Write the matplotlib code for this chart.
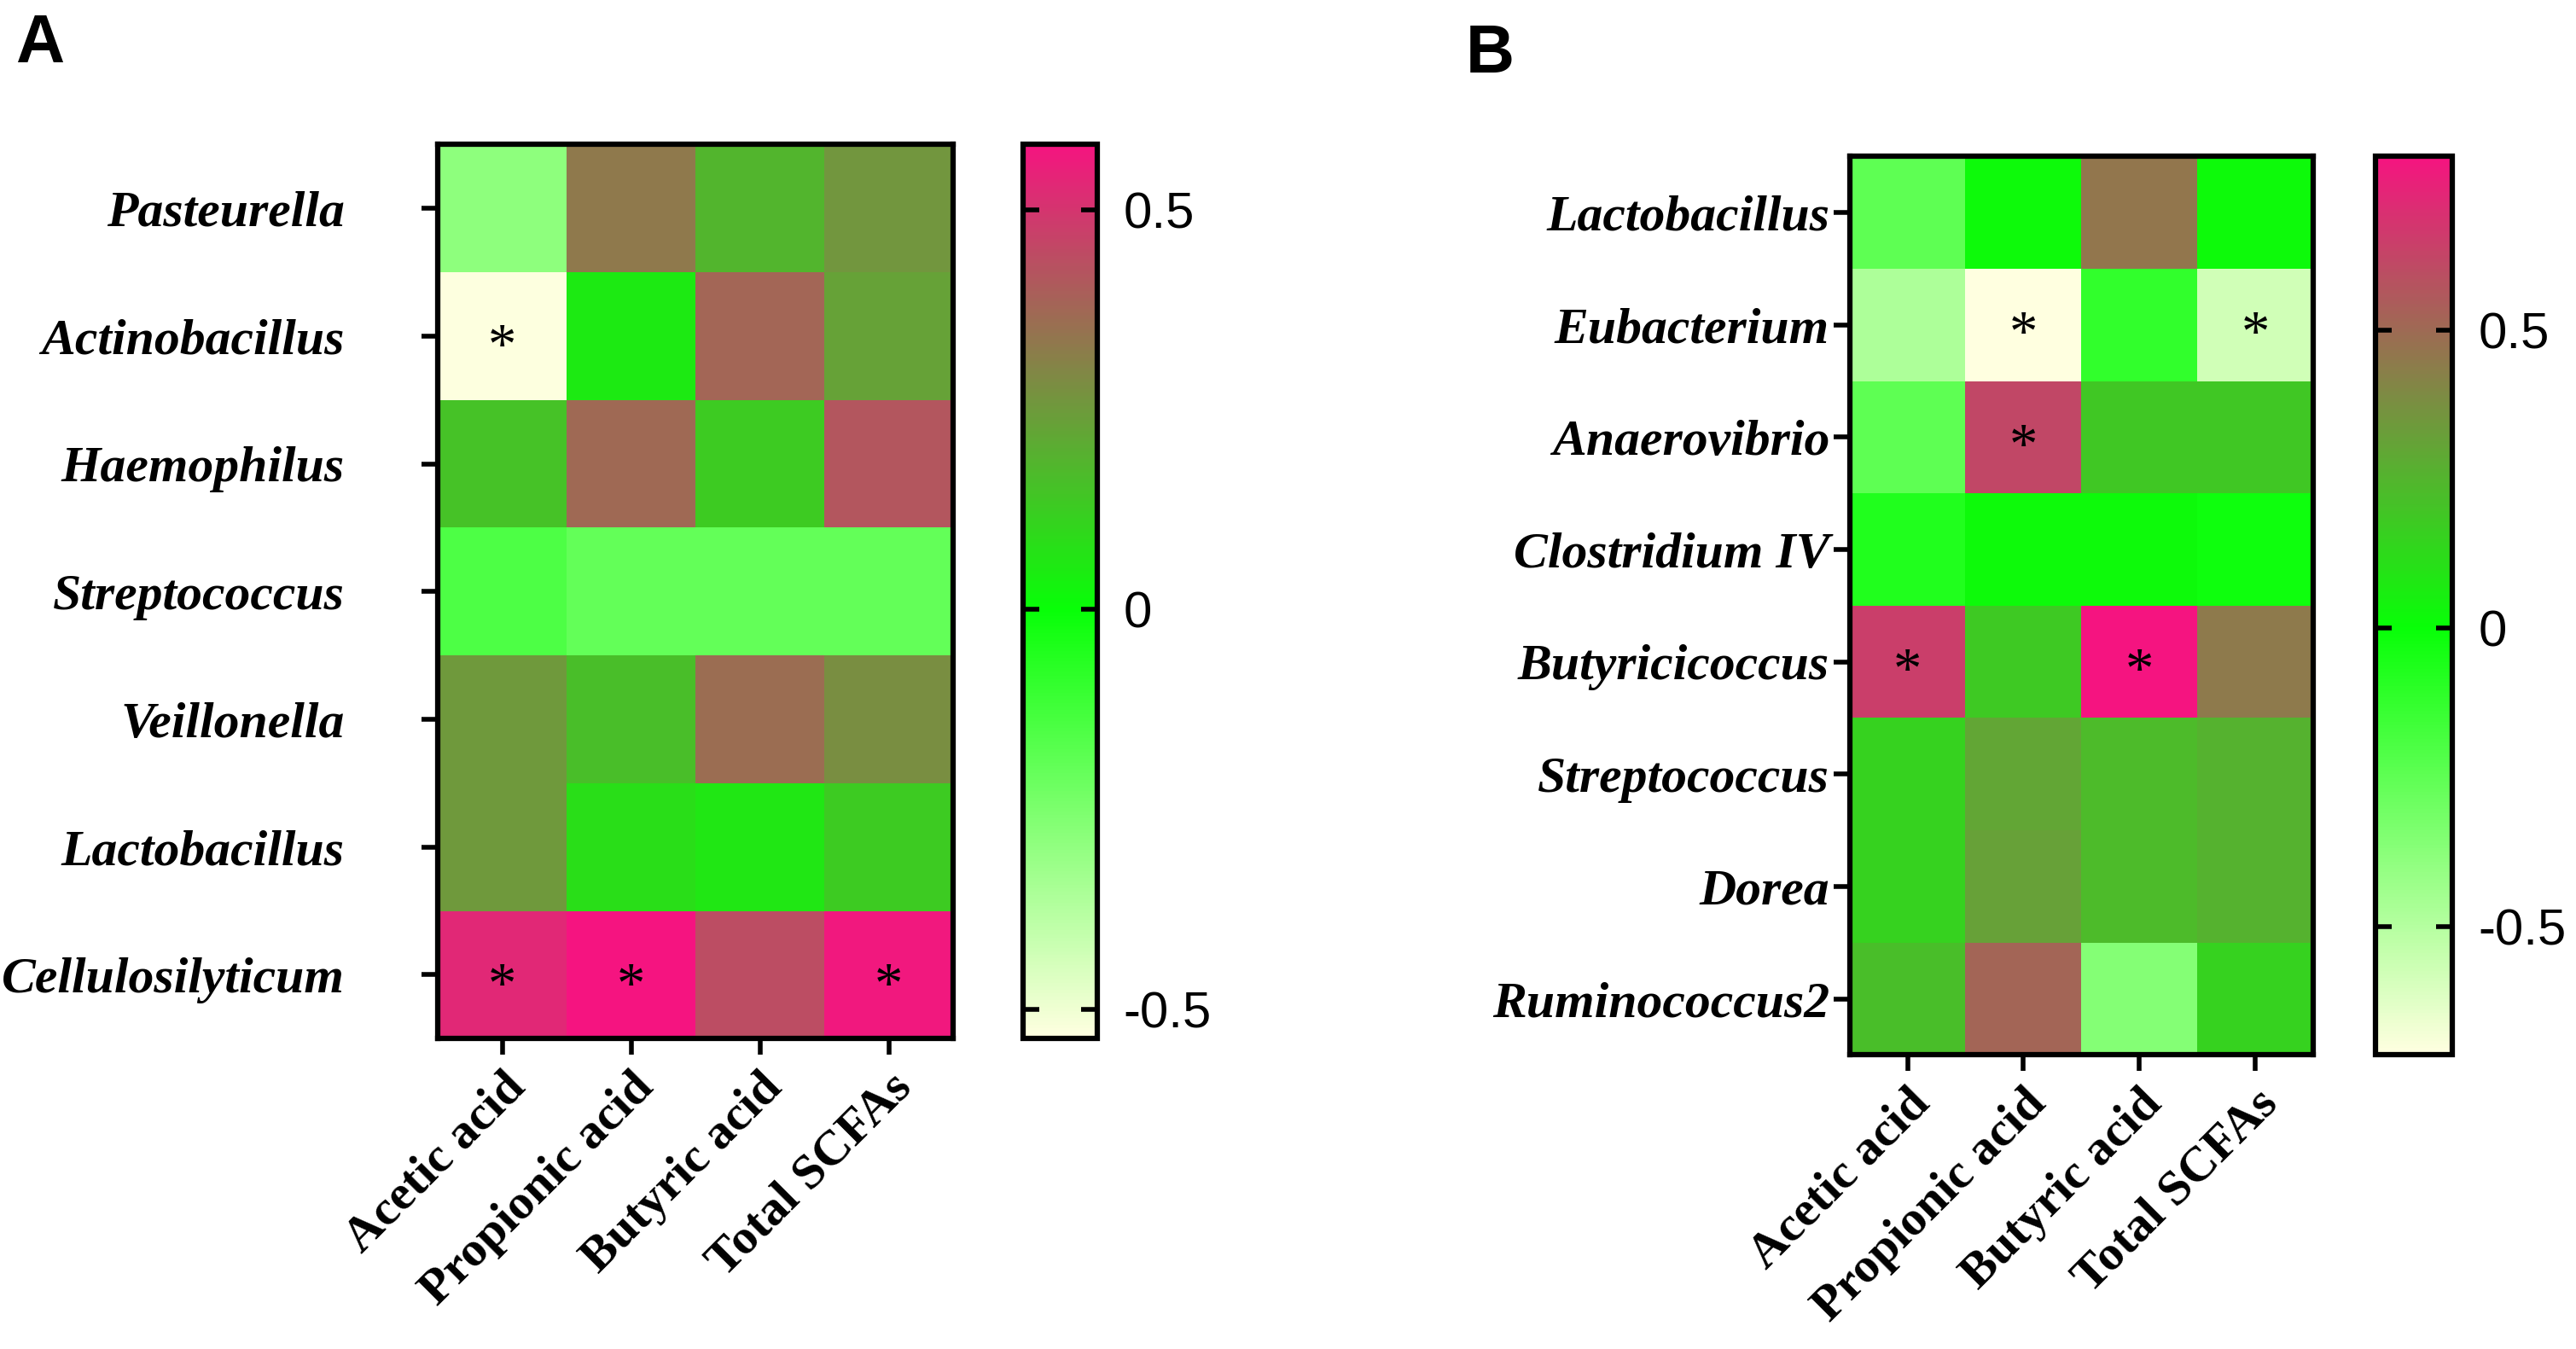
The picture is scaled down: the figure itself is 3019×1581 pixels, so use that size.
import numpy as np
import matplotlib
matplotlib.use("Agg")
import matplotlib.pyplot as plt
from matplotlib.colors import LinearSegmentedColormap, Normalize

# Columns shared by both panels
acids = ['Acetic acid', 'Propionic acid', 'Butyric acid', 'Total SCFAs']

# Panel A: genera and correlation values (rows top to bottom)
genera_a = ['Pasteurella', 'Actinobacillus', 'Haemophilus', 'Streptococcus',
            'Veillonella', 'Lactobacillus', 'Cellulosilyticum']
corr_a = [
    [-0.29, 0.33, 0.18, 0.26],
    [-0.53, 0.05, 0.38, 0.23],
    [0.15, 0.37, 0.13, 0.42],
    [-0.15, -0.20, -0.20, -0.20],
    [0.25, 0.16, 0.36, 0.28],
    [0.25, 0.08, 0.06, 0.13],
    [0.53, 0.58, 0.44, 0.57],
]
sig_a = [
    [0, 0, 0, 0],
    [1, 0, 0, 0],
    [0, 0, 0, 0],
    [0, 0, 0, 0],
    [0, 0, 0, 0],
    [0, 0, 0, 0],
    [1, 1, 0, 1],
]
range_a = (-0.537, 0.582)

# Panel B
genera_b = ['Lactobacillus', 'Eubacterium', 'Anaerovibrio', 'Clostridium IV',
            'Butyricicoccus', 'Streptococcus', 'Dorea', 'Ruminococcus2']
corr_b = [
    [-0.25, 0.02, 0.46, 0.02],
    [-0.48, -0.72, -0.12, -0.58],
    [-0.25, 0.62, 0.19, 0.19],
    [-0.07, 0.02, 0.02, -0.02],
    [0.65, 0.18, 0.79, 0.45],
    [0.15, 0.30, 0.23, 0.26],
    [0.15, 0.32, 0.23, 0.26],
    [0.22, 0.52, -0.36, 0.15],
]
sig_b = [
    [0, 0, 0, 0],
    [0, 1, 0, 1],
    [0, 1, 0, 0],
    [0, 0, 0, 0],
    [1, 0, 1, 0],
    [0, 0, 0, 0],
    [0, 0, 0, 0],
    [0, 0, 0, 0],
]
range_b = (-0.716, 0.792)

cbar_ticks = [-0.5, 0, 0.5]
cbar_labels = ['-0.5', '0', '0.5']

pale = (1.0, 1.0, 0.88)
green = (0.03, 1.0, 0.03)
pink = (0.96, 0.08, 0.50)


def make_cmap(vmin, vmax):
    # pale at the minimum, pure green at zero, pink at the maximum
    mid = (0 - vmin) / (vmax - vmin)
    return LinearSegmentedColormap.from_list('pg', [(0, pale), (mid, green), (1, pink)])


serif = 'Liberation Serif'
sans = 'Liberation Sans'

fig = plt.figure(figsize=(30.19, 15.81), dpi=100)


def panel(rect, cbrect, genera, corr, sig, vrange, ypad):
    ax = fig.add_axes(rect)
    cax = fig.add_axes(cbrect)
    data = np.array(corr)
    vmin, vmax = vrange
    norm = Normalize(vmin=vmin, vmax=vmax)
    mesh = ax.pcolormesh(data, cmap=make_cmap(vmin, vmax), norm=norm)
    ax.set_xlim(0, data.shape[1])
    ax.set_ylim(data.shape[0], 0)
    ax.set_xticks(np.arange(data.shape[1]) + 0.5)
    ax.set_xticklabels(acids, rotation=45, ha='right', rotation_mode='anchor',
                       fontfamily=serif, fontweight='bold', fontsize=42)
    ax.set_yticks(np.arange(data.shape[0]) + 0.5)
    ax.set_yticklabels(genera, fontfamily=serif, fontweight='bold',
                       fontstyle='italic', fontsize=43)
    ax.tick_params(axis='both', length=14, width=4)
    ax.tick_params(axis='y', pad=ypad)
    ax.tick_params(axis='x', pad=8)
    for s in ax.spines.values():
        s.set_linewidth(4.5)
    for i in range(data.shape[0]):
        for j in range(data.shape[1]):
            if sig[i][j]:
                ax.text(j + 0.5, i + 0.6, '*', ha='center', va='center',
                        fontsize=48, fontfamily=serif, color='black')

    cb = fig.colorbar(mesh, cax=cax, ticks=cbar_ticks)
    cb.outline.set_linewidth(4.5)
    cax.tick_params(direction='in', left=True, right=True, length=14, width=4,
                    labelsize=43, pad=22)
    cax.set_yticklabels(cbar_labels, fontfamily=sans)
    return ax


panel([0.170, 0.230, 0.200, 0.663], [0.397, 0.230, 0.029, 0.663],
      genera_a, corr_a, sig_a, range_a, 65)
panel([0.718, 0.218, 0.180, 0.666], [0.922, 0.218, 0.030, 0.666],
      genera_b, corr_b, sig_b, range_b, 3)

fig.text(0.006, 0.954, 'A', fontfamily=sans, fontweight='bold', fontsize=57, va='baseline')
fig.text(0.569, 0.946, 'B', fontfamily=sans, fontweight='bold', fontsize=57, va='baseline')

fig.savefig('out.png', dpi=100)
